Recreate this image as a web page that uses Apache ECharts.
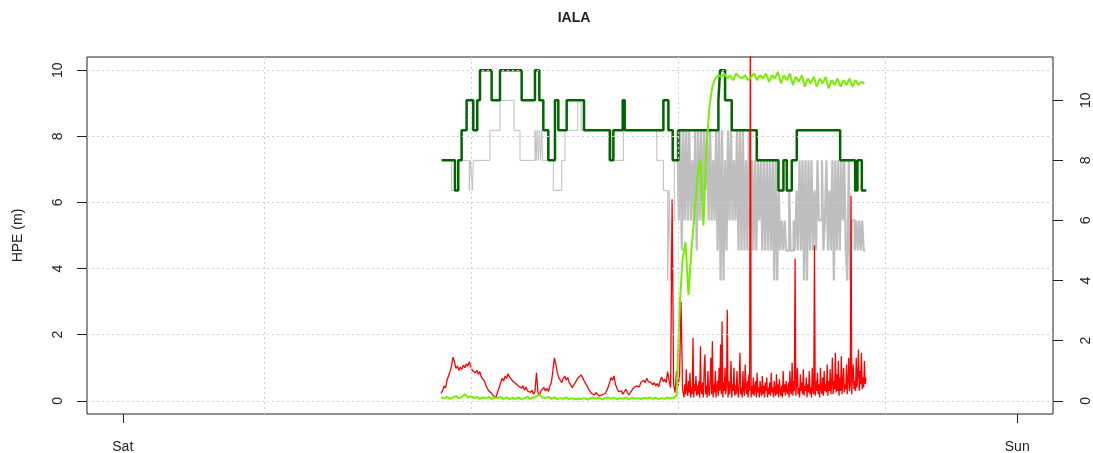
<!DOCTYPE html>
<html>
<head>
<meta charset="utf-8">
<title>IALA</title>
<script src="https://cdn.jsdelivr.net/npm/echarts@6/dist/echarts.min.js"></script>
<style>
  html, body { margin: 0; padding: 0; background: #fff; }
  #chart { width: 1093px; height: 453px; }
</style>
</head>
<body>
<div id="chart"></div>
<script>
// x in hours from Sat 00:00
var dayTicks = [0, 24];
var dayLabels = ['Sat', 'Sun'];
var leftTicks = [0, 2, 4, 6, 8, 10];
var rightTicks = [0, 2, 4, 6, 8, 10];
var gridHours = [3.785, 9.34, 14.896, 20.452];

// HPE (m), red: calm stretch sampled every 0.04 h ...
var hpeStartA = 8.54, hpeStepA = 0.04;
var hpeA = [
    0.22,0.30,0.45,0.38,0.62,0.75,0.88,1.05,1.32,1.18,
    0.98,1.05,0.92,1.02,0.95,1.08,1.0,1.12,1.05,1.18,
    1.02,0.92,0.98,0.85,0.92,0.8,0.88,0.72,0.78,0.6,
    0.48,0.38,0.3,0.35,0.22,0.15,0.2,0.12,0.28,0.4,
    0.55,0.68,0.6,0.75,0.68,0.82,0.72,0.78,0.6,0.66,
    0.52,0.58,0.45,0.5,0.38,0.45,0.32,0.42,0.3,0.36,
    0.25,0.32,0.2,0.28,0.85,0.25,0.18,0.3,0.25,0.4,
    0.3,0.38,0.28,0.45,0.55,0.9,1.3,1.1,0.85,0.7,
    0.62,0.55,0.68,0.75,0.62,0.7,0.55,0.48,0.4,0.45,
    0.55,0.6,0.7,0.65,0.78,0.7,0.6,0.52,0.45,0.35,
    0.3,0.22,0.28,0.18,0.25,0.2,0.15,0.1,0.18,0.12,
    0.22,0.3,0.4,0.55,0.7,0.62,0.75,0.5,0.38,0.28,
    0.22,0.3,0.2,0.28,0.35,0.25,0.18,0.25,0.3,0.38,
    0.32,0.45,0.5,0.42,0.55,0.5,0.62,0.55,0.68,0.58,
    0.62,0.55,0.48,0.55,0.45,0.52,0.42,0.6,0.72,0.58,
    0.65,0.55,0.88,0.6,0.4,6.1,0.5,0.25,0.9,0.45,
    0.8,3.0,0.35
];
// ... noisy stretch sampled every 0.02 h
var hpeStartB = 15.06, hpeStepB = 0.02;
var hpeB = [
    0.1,0.5,0.2,0.95,0.3,0.15,0.6,0.25,0.85,0.1,
    0.4,0.2,1.9,0.1,0.5,0.3,0.75,0.15,0.45,0.2,
    0.6,0.1,1.65,0.3,0.2,0.55,0.1,1.0,1.4,0.2,
    0.45,0.1,0.9,0.3,0.15,0.6,1.3,0.2,1.8,0.1,
    0.5,0.25,0.9,0.1,0.4,0.6,0.15,1.0,0.3,1.7,
    0.2,2.4,0.1,0.55,0.3,1.0,0.2,0.45,2.75,0.1,
    0.6,0.2,0.4,1.2,0.1,0.5,0.3,1.0,0.15,0.45,
    0.2,0.9,0.3,0.1,0.55,1.45,0.2,0.4,0.1,0.9,
    0.3,0.15,1.1,0.4,0.2,0.6,0.1,0.8,0.3,12,
    0.1,0.45,0.2,0.7,0.15,0.35,0.6,0.1,0.85,0.25,
    0.4,0.1,0.6,0.3,0.15,0.75,0.2,0.45,0.1,0.55,
    0.3,0.7,0.1,0.4,0.2,0.55,0.15,0.85,0.25,0.4,
    0.1,0.6,0.3,0.15,0.8,0.2,0.5,0.1,0.65,0.3,
    0.15,0.45,0.1,0.9,0.25,0.5,0.15,0.6,0.3,0.2,
    0.55,0.1,0.9,0.3,0.2,1.15,0.15,0.6,0.3,4.3,
    0.15,0.5,1.0,0.2,0.4,0.1,0.8,0.3,0.55,0.2,
    0.95,0.15,0.45,0.3,0.7,0.1,0.5,0.25,0.9,0.2,
    0.4,0.1,1.0,0.3,0.2,4.7,0.15,0.6,0.3,0.85,
    0.2,0.5,0.1,1.0,0.35,0.2,0.7,0.15,0.9,0.3,
    0.5,0.25,1.1,0.15,0.6,0.3,0.95,0.2,0.5,1.3,
    0.2,0.6,0.35,1.45,0.25,0.8,0.3,1.2,0.15,0.7,
    0.3,1.35,0.2,0.6,1.0,0.25,0.5,0.35,1.1,0.2,
    0.6,1.3,0.3,0.5,6.2,0.2,0.75,1.1,0.35,0.6,
    0.3,1.3,0.4,0.8,1.55,0.3,0.9,0.5,1.45,0.35,
    0.7,0.4,1.2,0.5,0.7
];

// light green trace (left scale), sampled every limeStep hours
var limeStart = 8.54, limeStep = 0.08;
var lime = [
    0.1,0.08,0.12,0.06,0.1,0.14,0.08,0.12,0.2,0.1,
    0.14,0.08,0.12,0.06,0.1,0.08,0.12,0.06,0.1,0.08,
    0.12,0.06,0.1,0.05,0.09,0.06,0.1,0.05,0.08,0.12,
    0.06,0.1,0.14,0.18,0.1,0.08,0.12,0.06,0.1,0.05,
    0.08,0.06,0.1,0.05,0.08,0.04,0.07,0.05,0.08,0.04,
    0.07,0.1,0.06,0.09,0.05,0.08,0.1,0.06,0.09,0.05,
    0.08,0.06,0.1,0.05,0.09,0.06,0.08,0.05,0.09,0.07,
    0.1,0.06,0.09,0.05,0.08,0.06,0.1,0.07,0.09,
    0.15,2.8,4.3,4.8,3.2,4.6,5.6,6.8,7.3,5.3,7.6,8.9,9.5,9.75,9.85,
    9.8,9.9,9.75,9.85,9.7,9.9,9.8,9.75,9.85,9.7,
    9.8,9.9,9.7,9.85,9.75,9.9,9.65,9.85,9.75,9.95,
    9.6,9.85,9.7,9.9,9.55,9.8,9.65,9.85,9.5,9.75,
    9.6,9.8,9.5,9.75,9.6,9.8,9.45,9.7,9.55,9.75,
    9.5,9.7,9.55,9.75,9.5,9.7,9.55,9.65,9.6
];

// dark green step trace (right scale): [hour, value]
var darkSteps = [
    [8.555,8],[8.913,7],[9.002,8],[9.092,9],[9.226,10],[9.405,9],[9.512,10],[9.584,11],
    [9.897,10],[10.121,11],[10.703,10],[11.060,11],[11.177,10],[11.284,9],[11.418,8],
    [11.597,10],[11.687,9],[11.911,10],[12.376,9],[13.074,8],[13.163,9],[13.414,10],
    [13.468,9],[14.506,10],[14.640,9],[14.756,8],[14.909,9],[15.982,10],[16.027,11],
    [16.161,10],[16.340,9],[17.011,8],[17.593,7],[17.727,8],[17.817,7],[17.951,8],
    [18.085,9],[19.248,8],[19.651,7],[19.713,8],[19.830,7],[19.95,7]
];

// grey step trace (right scale): sparse part as [hour, value] ...
var greySteps = [
    [8.555,8],[8.823,7],[9.002,8],[9.297,7],[9.33,8],[9.38,7],[9.405,8],[9.852,9],
    [10.121,10],[10.50,9],[10.658,8],[11.06,9],[11.09,8],[11.12,9],[11.15,8],[11.18,9],
    [11.21,8],[11.24,9],[11.27,8],[11.552,7],[11.776,8],[11.866,9],[12.21,10],[12.30,9],
    [13.03,8],[13.07,9],[13.09,8],[13.16,9],[13.18,8],[13.432,9],[14.327,8],[14.506,7],
    [14.62,4],[14.66,7],[14.70,4],[14.74,6],[14.80,8],[14.88,9]
];
// ... and the busy part sampled every greyStep hours
var greyStart = 14.88, greyStep = 0.04;
var greyBusy = [
    9,6,9,5,9,6,9,6,9,6,
    8,6,9,5,9,6,9,6,9,7,
    9,6,9,6,8,6,9,5,9,4,
    9,4,8,5,9,6,9,6,8,6,
    9,5,9,5,9,5,8,5,9,5,
    8,5,8,5,8,6,8,5,8,5,
    8,5,8,5,8,4,8,4,7,5,
    6,5,6,5,5,7,5,5,6,5,
    7,5,8,5,8,4,8,4,8,5,
    8,5,7,5,8,6,6,8,5,6,
    8,5,7,5,8,4,8,5,8,5,
    8,6,8,5,4,8,4,6,6,5,
    6,5,6,5,6,5,5
];

function sampled(start, step, values) {
    return values.map(function (v, i) { return [start + i * step, v]; });
}

var FONT = 'Liberation Sans';
var INK = '#222';

var chart = echarts.init(document.getElementById('chart'));

function trace(name, axis, color, width, data, step) {
    return {
        name: name,
        type: 'line',
        yAxisIndex: axis,
        step: step,
        showSymbol: false,
        symbol: 'none',
        lineStyle: { color: color, width: width },
        data: data
    };
}

var option = {
    animation: false,
    title: {
        text: 'IALA',
        left: 569,
        top: 6,
        textAlign: 'center',
        textStyle: { fontFamily: FONT, fontSize: 14, fontWeight: 'bold', color: INK }
    },
    grid: {
        left: 87, right: 40, top: 57, bottom: 39,
        outerBoundsMode: 'none',
        show: true, borderColor: INK, borderWidth: 1, backgroundColor: 'transparent'
    },
    xAxis: {
        type: 'value',
        min: -0.96,
        max: 24.96,
        axisLine: { show: false, onZero: false },
        splitLine: { show: false },
        axisTick: { show: true, length: 9, customValues: dayTicks, lineStyle: { color: INK } },
        axisLabel: {
            customValues: dayTicks,
            margin: 26,
            fontFamily: FONT, fontSize: 14, color: INK,
            formatter: function (v) {
                var i = dayTicks.indexOf(v);
                return i >= 0 ? dayLabels[i] : '';
            }
        }
    },
    yAxis: [
        {
            type: 'value',
            min: -0.4,
            max: 10.4,
            name: 'HPE (m)',
            nameLocation: 'middle',
            nameGap: 62,
            nameRotate: 90,
            nameTextStyle: { fontFamily: FONT, fontSize: 14, color: INK },
            axisLine: { show: false, onZero: false },
            splitLine: { show: false },
            axisTick: { show: true, length: 10, customValues: leftTicks, lineStyle: { color: INK } },
            axisLabel: {
                customValues: leftTicks,
                rotate: 90,
                margin: 22,
                fontFamily: FONT, fontSize: 14, color: INK
            }
        },
        {
            type: 'value',
            position: 'right',
            min: -0.44,
            max: 11.44,
            axisLine: { show: false, onZero: false },
            splitLine: { show: false },
            axisTick: { show: true, length: 10, customValues: rightTicks, lineStyle: { color: INK } },
            axisLabel: {
                customValues: rightTicks,
                rotate: 90,
                margin: 26,
                fontFamily: FONT, fontSize: 14, color: INK
            }
        }
    ],
    series: [
        {
            // dotted grid
            type: 'line',
            data: [],
            yAxisIndex: 0,
            silent: true,
            markLine: {
                silent: true,
                symbol: ['none', 'none'],
                label: { show: false },
                lineStyle: { type: [2, 3], color: '#cfcfcf', width: 1 },
                data: gridHours.map(function (h) { return { xAxis: h }; })
                    .concat(leftTicks.map(function (v) { return { yAxis: v }; }))
            }
        },
        trace('grey', 1, '#bebebe', 1, greySteps, 'end'),
        trace('grey busy', 1, '#bebebe', 2.2, sampled(greyStart, greyStep, greyBusy), 'end'),
        trace('darkgreen', 1, '#006400', 2.5, darkSteps, 'end'),
        trace('HPE', 0, '#ff0000', 1.3,
            sampled(hpeStartA, hpeStepA, hpeA).concat(sampled(hpeStartB, hpeStepB, hpeB)), false),
        trace('lime', 0, '#76ee00', 2, sampled(limeStart, limeStep, lime), false)
    ]
};

chart.setOption(option);

window.addEventListener('resize', function () {
    chart.resize();
});
</script>
</body>
</html>
